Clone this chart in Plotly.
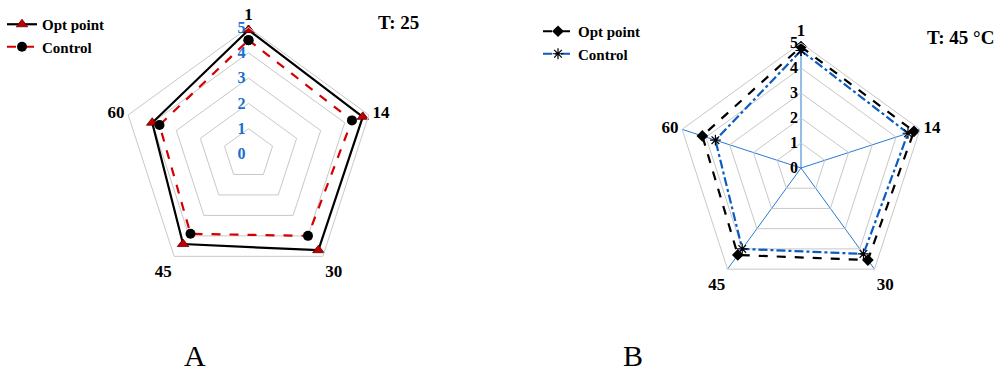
import plotly.graph_objects as go

# Sampling days shown on the angular axis
days = ["1", "14", "30", "45", "60"]

# Panel A (T: 25)
opt_a = [4.9, 4.75, 4.7, 4.4, 4.0]
ctrl_a = [4.5, 4.3, 4.0, 3.9, 3.7]

# Panel B (T: 45 °C)
opt_b = [4.85, 4.75, 4.55, 4.3, 4.15]
ctrl_b = [4.7, 4.5, 4.25, 4.0, 3.6]

radial_ticks = [0, 1, 2, 3, 4, 5]

SERIF = "Liberation Serif"


def closed(vals):
    return list(vals) + [vals[0]]


theta = closed(days)

fig = go.Figure()

fig.add_trace(go.Scatterpolar(
    r=closed(opt_a), theta=theta, name="Opt point", subplot="polar",
    legend="legend", mode="lines+markers",
    line=dict(color="black", width=2.2),
    marker=dict(symbol="triangle-up", size=10, color="#c00000",
                line=dict(color="#600000", width=0.8)),
))
fig.add_trace(go.Scatterpolar(
    r=closed(ctrl_a), theta=theta, name="Control", subplot="polar",
    legend="legend", mode="lines+markers",
    line=dict(color="#d40000", width=2.2, dash="dash"),
    marker=dict(symbol="circle", size=10, color="black"),
))
fig.add_trace(go.Scatterpolar(
    r=closed(opt_b), theta=theta, name="Opt point", subplot="polar2",
    legend="legend2", mode="lines+markers",
    line=dict(color="black", width=2.2, dash="dash"),
    marker=dict(symbol="diamond", size=9, color="black"),
))
fig.add_trace(go.Scatterpolar(
    r=closed(ctrl_b), theta=theta, name="Control", subplot="polar2",
    legend="legend2", mode="lines+markers",
    line=dict(color="#0b5cc0", width=2.2, dash="dashdot"),
    marker=dict(symbol="asterisk-open", size=9, color="black",
                line=dict(color="black", width=1.2)),
))

W, H = 996, 372


def dom(cx, cy, rad):
    return dict(x=[(cx - rad) / W, (cx + rad) / W],
                y=[(H - cy - rad) / H, (H - cy + rad) / H])


def px(x, y):
    return x / W, 1 - y / H


tick_font = dict(family=SERIF, size=17, color="black", weight="bold")
legend_font = dict(family=SERIF, size=15, color="black", weight="bold")

fig.update_layout(
    width=W, height=H,
    margin=dict(l=0, r=0, t=0, b=0),
    paper_bgcolor="white",
    font=dict(family=SERIF, color="black"),
    polar=dict(
        domain=dom(248.5, 154, 126.5),
        bgcolor="white",
        gridshape="linear",
        radialaxis=dict(range=[0, 5], tickvals=radial_ticks, angle=90,
                        side="counterclockwise", tickangle=90,
                        showline=False, showgrid=True, gridcolor="#c8c8c8",
                        gridwidth=1, ticks="",
                        tickfont=dict(family=SERIF, size=16, color="#1a6fcf",
                                      weight="bold")),
        angularaxis=dict(categoryorder="array", categoryarray=days,
                         direction="clockwise", rotation=90,
                         showgrid=False, showline=True, linecolor="#c8c8c8",
                         linewidth=1, ticks="", tickfont=tick_font),
    ),
    polar2=dict(
        domain=dom(801, 168, 125),
        bgcolor="white",
        gridshape="linear",
        radialaxis=dict(range=[0, 5], tickvals=radial_ticks, angle=90,
                        side="counterclockwise", tickangle=90,
                        showline=False, showgrid=True, gridcolor="#c8c8c8",
                        gridwidth=1, ticks="",
                        tickfont=dict(family=SERIF, size=16, color="black",
                                      weight="bold")),
        angularaxis=dict(categoryorder="array", categoryarray=days,
                         direction="clockwise", rotation=90,
                         showgrid=True, gridcolor="#2a7ad5", gridwidth=1,
                         showline=True, linecolor="#c8c8c8",
                         linewidth=1, ticks="", tickfont=tick_font),
    ),
    legend=dict(x=2 / W, y=1 - 8 / H, xanchor="left", yanchor="top",
                bgcolor="rgba(0,0,0,0)", tracegroupgap=0, itemwidth=30,
                font=legend_font),
    legend2=dict(x=538 / W, y=1 - 15 / H, xanchor="left", yanchor="top",
                 bgcolor="rgba(0,0,0,0)", tracegroupgap=0, itemwidth=30,
                 font=legend_font),
    annotations=[
        dict(text="T: 25", x=px(398, 23)[0], y=px(398, 23)[1],
             xref="paper", yref="paper", xanchor="center", yanchor="middle",
             showarrow=False, font=dict(family=SERIF, size=19, weight="bold")),
        dict(text="T: 45 °C", x=px(960, 37)[0], y=px(960, 37)[1],
             xref="paper", yref="paper", xanchor="center", yanchor="middle",
             showarrow=False, font=dict(family=SERIF, size=19, weight="bold")),
        dict(text="A", x=px(195, 355)[0], y=px(195, 355)[1],
             xref="paper", yref="paper", xanchor="center", yanchor="middle",
             showarrow=False, font=dict(family=SERIF, size=30)),
        dict(text="B", x=px(633, 355)[0], y=px(633, 355)[1],
             xref="paper", yref="paper", xanchor="center", yanchor="middle",
             showarrow=False, font=dict(family=SERIF, size=30)),
    ],
)

fig.write_html("out.html")
